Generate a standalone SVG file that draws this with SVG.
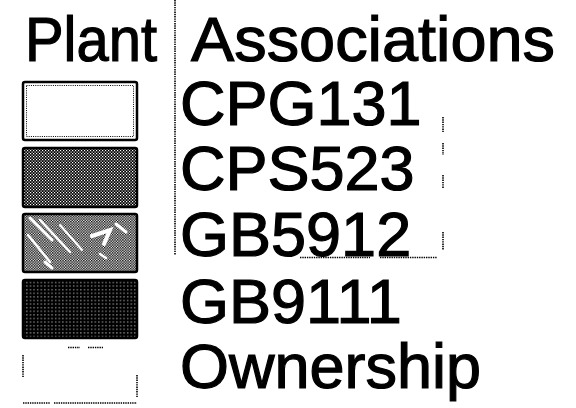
<svg xmlns="http://www.w3.org/2000/svg" width="576" height="408" viewBox="0 0 576 408">
<style>
.t{font-family:"Liberation Sans",Arial,Helvetica,sans-serif;font-size:63px;fill:#000;stroke:#000;stroke-width:1.2px}
.dot{fill:none;stroke:#000;stroke-width:1.6;stroke-dasharray:1.4 0.9}
.box{stroke:#000;stroke-width:2.5}
</style>
<defs>
<pattern id="p2" width="3" height="3" patternUnits="userSpaceOnUse">
<rect width="3" height="3" fill="#000"/>
<rect x="0" y="0" width="1.2" height="1.2" fill="#fff"/>
<rect x="1.5" y="1.5" width="1.2" height="1.2" fill="#fff"/>
</pattern>
<pattern id="p3" width="2.6" height="2.6" patternUnits="userSpaceOnUse">
<rect width="2.6" height="2.6" fill="#fff"/>
<rect x="0" y="0" width="1.4" height="1.4" fill="#000"/>
<rect x="1.3" y="1.3" width="1.4" height="1.4" fill="#000"/>
</pattern>
<pattern id="p4" width="3.6" height="3.6" patternUnits="userSpaceOnUse">
<rect width="3.6" height="3.6" fill="#000"/>
<rect x="1.2" y="1.2" width="1" height="1" fill="#fff"/>
</pattern>
</defs>
<rect width="576" height="408" fill="#fff"/>
<g id="title">
<text class="t" x="25" y="61" font-size="62" textLength="132" lengthAdjust="spacingAndGlyphs">Plant</text>
<text class="t" x="191" y="61" font-size="62" textLength="364" lengthAdjust="spacingAndGlyphs">Associations</text>
</g>
<g id="frame-lines">
<line class="dot" x1="175" y1="0" x2="175" y2="255"/>
<path class="dot" d="M300 257.5 H370 M380 257.5 H437"/>
<path class="dot" d="M443 117 V132 M443 143 V155 M443 175 V188 M443 232 V250"/>
</g>
<g id="legend-CPG131">
<rect class="box" x="23" y="82" width="114" height="58" rx="2" fill="#fff" stroke-width="3.5"/>
<rect x="26.5" y="85.5" width="107" height="51" fill="none" stroke="#000" stroke-width="1" stroke-dasharray="1 1.2"/>
<text class="t" x="180" y="125">CPG131</text>
</g>
<g id="legend-CPS523">
<rect class="box" x="23" y="148" width="114" height="59" rx="2" fill="url(#p2)"/>
<text class="t" x="180" y="190">CPS523</text>
</g>
<g id="legend-GB5912">
<rect class="box" x="23" y="214" width="114" height="58" rx="2" fill="url(#p3)"/>
<g stroke="#fff" stroke-linecap="round" fill="none">
<path d="M30 218 L52 240" stroke-width="3"/>
<path d="M40 220 L70 252" stroke-width="2.5"/>
<path d="M28 235 L50 262" stroke-width="2.5"/>
<path d="M60 225 L82 250" stroke-width="2"/>
<path d="M92 236 L110 230 L104 244" stroke-width="4"/>
<path d="M116 224 L126 232" stroke-width="3"/>
<path d="M45 262 L52 268" stroke-width="3"/>
<path d="M100 254 L106 258" stroke-width="2.5"/>
</g>
<text class="t" x="180" y="256">GB5912</text>
</g>
<g id="legend-GB9111">
<rect class="box" x="23" y="280" width="114" height="58" rx="2" fill="url(#p4)"/>
<text class="t" x="180" y="323">GB9111</text>
</g>
<g id="legend-Ownership">
<path class="dot" stroke-width="2" d="M68 347.5 H80 M88 347.5 H103 M23 355 V377 M137 375 V397 M23 403 H50 M54 403 H137"/>
<text class="t" x="180" y="388">Ownership</text>
</g>
</svg>
